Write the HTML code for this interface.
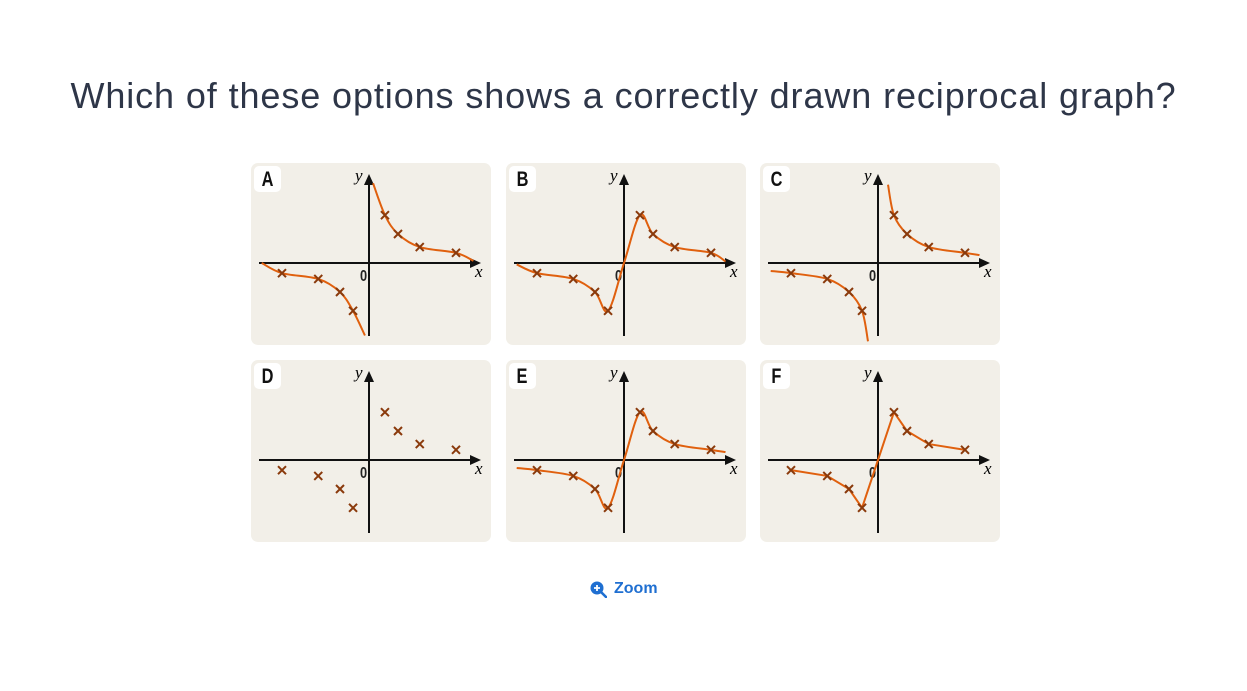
<!DOCTYPE html>
<html><head><meta charset="utf-8">
<style>
body{margin:0;width:1247px;height:691px;background:#fff;font-family:"Liberation Sans",sans-serif;position:relative;overflow:hidden}
h1{position:absolute;left:0;width:1247px;top:75px;margin:0;text-align:center;font-weight:normal;font-size:36px;color:#2e3648;letter-spacing:0.9px}
.panel{position:absolute;width:240px;height:182px;background:#f2efe8;border-radius:7px}
.lbl{position:absolute;left:3px;top:3px;width:27px;height:26px;background:#fff;border-radius:5px;font:bold 21px "Liberation Sans",sans-serif;line-height:27px;text-align:center;color:#111}
.lbl span{display:inline-block;transform:scaleX(0.78)}
svg{position:absolute;left:0;top:0}
#zoom{position:absolute;left:590px;top:580px;color:#1f6fd1;font-weight:bold;font-size:16px;display:flex;align-items:center;gap:7px}
</style></head><body>
<h1>Which of these options shows a correctly drawn reciprocal graph?</h1>
<div id="panels"></div>
<div id="zoom"><svg width="17" height="17" viewBox="0 0 17 17" style="position:static"><circle cx="7" cy="7" r="6.5" fill="#1f6fd1"/><path d="M7 4v6M4 7h6" stroke="#fff" stroke-width="1.8"/><path d="M11.5 11.5L16 16" stroke="#1f6fd1" stroke-width="2.6" stroke-linecap="round"/></svg><span>Zoom</span></div>
<script>
// data (units)
const xsPos=[1.1,2,3.5,6];
const ysPos=[3.3,2,1.1,0.7];
const labels=["A","B","C","D","E","F"];
const ox=118, oy=100, sc=14.5;
function px(x){return ox+x*sc;}
function py(y){return oy-y*sc;}
const pos=xsPos.map((x,i)=>[x,ysPos[i]]);
const neg=xsPos.map((x,i)=>[-x,-ysPos[i]]).reverse();
const curves={
 A:[[[-7.4,0],...neg,[-0.28,-5.0]],[[0.28,5.5],...pos,[7.2,0.15]]],
 B:[[[-7.4,-0.1],...neg,[0,0],...pos,[7.0,0.1]]],
 C:[[[-7.4,-0.55],...neg,[-0.69,-5.4]],[[0.69,5.4],...pos,[7.0,0.55]]],
 D:[],
 E:[[[-7.4,-0.55],...neg,[0,0],...pos,[7.0,0.55]]],
 F:[[...neg,[0,0],...pos]]
};
const straight={F:true};
function smooth(pts){
 const p=pts.map(q=>[px(q[0]),py(q[1])]);
 let d=`M${p[0][0]},${p[0][1]}`;
 for(let i=0;i<p.length-1;i++){
  const p0=p[i-1]||p[i],p1=p[i],p2=p[i+1],p3=p[i+2]||p2;
  const c1=[p1[0]+(p2[0]-p0[0])/6,p1[1]+(p2[1]-p0[1])/6];
  const c2=[p2[0]-(p3[0]-p1[0])/6,p2[1]-(p3[1]-p1[1])/6];
  d+=` C${c1[0]},${c1[1]} ${c2[0]},${c2[1]} ${p2[0]},${p2[1]}`;
 }
 return d;
}
function poly(pts){return "M"+pts.map(q=>px(q[0])+","+py(q[1])).join(" L");}
const pos2=[[251,163],[506,163],[760,163],[251,360],[506,360],[760,360]];
const root=document.getElementById('panels');
labels.forEach((L,k)=>{
 const div=document.createElement('div');
 div.className='panel';
 
 
 div.style.left=pos2[k][0]+'px';div.style.top=pos2[k][1]+'px';
 let s=`<svg width="240" height="182">`;
 s+=`<line x1="8" y1="${oy}" x2="222" y2="${oy}" stroke="#111" stroke-width="2"/>`;
 s+=`<path d="M230,${oy} L219,${oy-5} L219,${oy+5}Z" fill="#111"/>`;
 s+=`<line x1="${ox}" y1="173" x2="${ox}" y2="20" stroke="#111" stroke-width="2"/>`;
 s+=`<path d="M${ox},11 L${ox-5},22 L${ox+5},22Z" fill="#111"/>`;
 s+=`<text x="104" y="18" font-family="Liberation Serif,serif" font-style="italic" font-size="17">y</text>`;
 s+=`<text x="224" y="114" font-family="Liberation Serif,serif" font-style="italic" font-size="17">x</text>`;
 s+=`<text x="109" y="118" font-family="Liberation Sans,sans-serif" font-weight="bold" font-size="16" fill="#222" transform="translate(109 0) scale(0.8 1) translate(-109 0)">0</text>`;
 (curves[L]||[]).forEach(c=>{
  s+=`<path d="${straight[L]?poly(c):smooth(c)}" fill="none" stroke="#e0600e" stroke-width="2" stroke-linejoin="round"/>`;
 });
 [...neg,...pos].forEach(q=>{
  const x=px(q[0]),y=py(q[1]);
  s+=`<path d="M${x-4},${y-4}L${x+4},${y+4}M${x-4},${y+4}L${x+4},${y-4}" stroke="#8a3a0c" stroke-width="2"/>`;
 });
 s+=`</svg><div class="lbl"><span>${L}</span></div>`;
 div.innerHTML=s;
 root.appendChild(div);
});
</script>
</body></html>
